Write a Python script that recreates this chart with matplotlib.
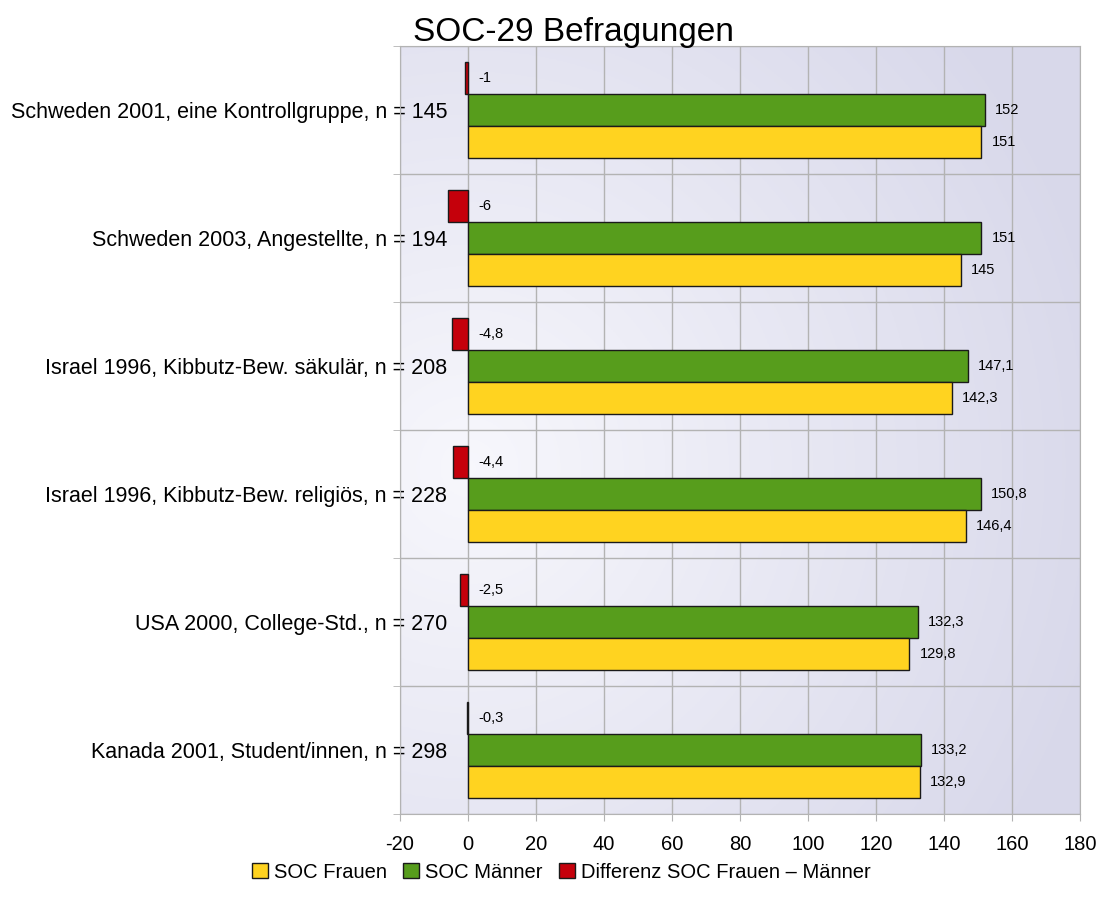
import numpy as np
import matplotlib.pyplot as plt

plt.rcParams['font.family'] = ['Liberation Sans', 'DejaVu Sans']
plt.rcParams['axes.unicode_minus'] = False

categories = ['Schweden 2001, eine Kontrollgruppe, n = 145',
              'Schweden 2003, Angestellte, n = 194',
              'Israel 1996, Kibbutz-Bew. säkulär, n = 208',
              'Israel 1996, Kibbutz-Bew. religiös, n = 228',
              'USA 2000, College-Std., n = 270',
              'Kanada 2001, Student/innen, n = 298']
frauen = [151, 145, 142.3, 146.4, 129.8, 132.9]
maenner = [152, 151, 147.1, 150.8, 132.3, 133.2]
diff = [-1, -6, -4.8, -4.4, -2.5, -0.3]

fig = plt.figure(figsize=(11.01, 9.08), dpi=100)
ax = fig.add_axes([400/1101, 1 - 814/908, 680/1101, 768/908])

# radial gradient background
gx, gy = np.meshgrid(np.linspace(0, 1, 300), np.linspace(0, 1, 300))
r = np.sqrt((gx - 0.1)**2 + ((gy - 0.55) * 1.1)**2)
t = np.clip(r / 0.95, 0, 1)
c0 = np.array([0.97, 0.97, 0.99])
c1 = np.array([0.85, 0.85, 0.92])
img = c0[None, None, :] * (1 - t[..., None]) + c1[None, None, :] * t[..., None]
ax.imshow(img, extent=[-20, 180, 0, 6], aspect='auto', origin='upper', zorder=0)

n = len(categories)
pos = np.arange(n)[::-1] + 0.5
h = 0.25
bars_d = ax.barh(pos + h, diff, height=h, color='#c5000b', edgecolor='#1a1a1a', lw=1, zorder=3)
bars_m = ax.barh(pos, maenner, height=h, color='#579d1c', edgecolor='#1a1a1a', lw=1, zorder=3)
bars_f = ax.barh(pos - h, frauen, height=h, color='#ffd320', edgecolor='#1a1a1a', lw=1, zorder=3)

def fmt(v):
    return ('%g' % v).replace('.', ',')

for vals, p in [(diff, pos + h), (maenner, pos), (frauen, pos - h)]:
    for v, y in zip(vals, p):
        ax.text(max(v, 0) + 3, y, fmt(v), va='center', ha='left', fontsize=10.5, zorder=4)

ax.set_xlim(-20, 180)
ax.set_ylim(0, 6)
ax.set_xticks(np.arange(-20, 181, 20))
ax.set_yticks(pos)
ax.set_yticklabels(categories, fontsize=15.5, zorder=5)
ax.set_yticks(np.arange(0, 7), minor=True)
ax.tick_params(axis='x', labelsize=14.5, length=5, color='#b3b3b3', pad=10)
ax.tick_params(axis='y', which='major', length=0, pad=-34)
ax.tick_params(axis='y', which='minor', length=5, color='#b3b3b3')
ax.grid(True, axis='x', color='#b3b3b3', lw=1, zorder=1)
ax.grid(True, axis='y', which='minor', color='#b3b3b3', lw=1, zorder=1)
for s in ax.spines.values():
    s.set_color('#b3b3b3')

fig.text(573/1101, 1 - 41/908, 'SOC-29 Befragungen', fontsize=24, ha='center', va='baseline')

handles = [bars_f, bars_m, bars_d]
labels = ['SOC Frauen', 'SOC Männer', 'Differenz SOC Frauen – Männer']
fig.legend(handles, labels, loc='center', bbox_to_anchor=(561/1101, 1 - 872/908), ncol=3,
           frameon=False, fontsize=14.5, handlelength=0.8, handleheight=0.8,
           handletextpad=0.3, columnspacing=0.8)

fig.savefig('out.png', dpi=100)
